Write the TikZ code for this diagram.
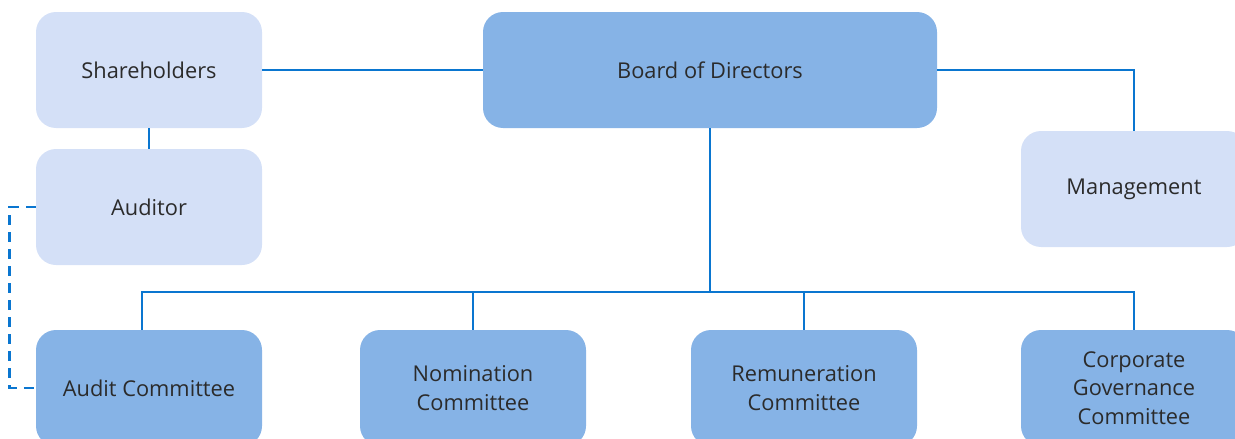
\documentclass[tikz,border=0pt]{standalone}
\usepackage{fontspec}
\setmainfont{Open Sans}
\usetikzlibrary{positioning, calc}
\definecolor{boxlight}{HTML}{D4E0F7}
\definecolor{boxdark}{HTML}{86B3E6}
\definecolor{linkblue}{HTML}{0A76D0}
\definecolor{textgray}{HTML}{2B2B2B}
\begin{document}
\begin{tikzpicture}[x=1pt,y=-1pt,
    unit/.style={rounded corners=20pt, minimum width=226pt, minimum height=116pt, inner sep=0pt,
      align=center, text=textgray, font=\fontsize{21.8}{28.5}\selectfont},
    lightunit/.style={unit, fill=boxlight},
    darkunit/.style={unit, fill=boxdark},
    link/.style={color=linkblue, line width=2.7pt},
    dashlink/.style={link, dash pattern=on 10pt off 7pt}]
      \useasboundingbox (0,0) rectangle (1235,439);
      \clip (0,0) rectangle (1235,439);
      \node[lightunit] (SH) at (149,70) {Shareholders};
      \node[lightunit] (AU) at (149,207) {Auditor};
      \node[darkunit, minimum width=454pt] (BD) at (710,70) {Board of Directors};
      \node[lightunit] (MG) at (1134,189) {Management};
      \node[darkunit] (AC) at (149,388) {Audit Committee};
      \node[darkunit] (NC) at (473,388) {Nomination\\Committee};
      \node[darkunit] (RC) at (804,388) {Remuneration\\Committee};
      \node[darkunit] (CG) at (1134,388) {Corporate\\Governance\\Committee};
      \coordinate (bus) at (710,292);
      \draw[link] (SH) -- (BD);
      \draw[link] (SH) -- (AU);
      \draw[link] (BD.east) -| (MG.north);
      \draw[link] (BD.south) -- (bus);
      \draw[link] ($(AC.north)+(-7,0)$) |- (bus);
      \foreach \c in {NC,RC,CG} {
        \draw[link] (\c.north) |- (bus);
      }
      \draw[dashlink] (AU.west) -- ++(-26,0) |- (AC.west);
    \end{tikzpicture}
\end{document}
